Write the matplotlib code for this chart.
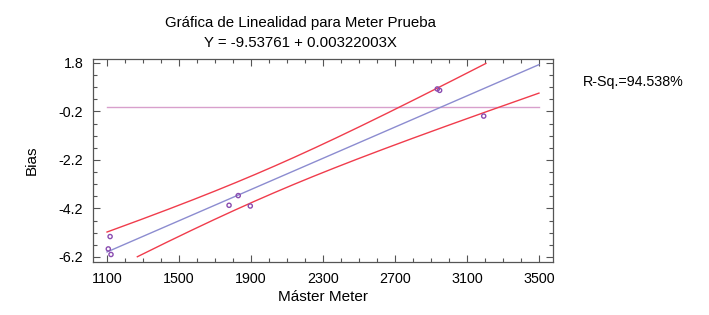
import numpy as np
import matplotlib
matplotlib.use("Agg")
import matplotlib.pyplot as plt
from matplotlib.ticker import MultipleLocator, FixedLocator

plt.rcParams["font.family"] = ["Liberation Sans", "DejaVu Sans"]

# bias vs master value
master = [1107, 1117, 1122, 1778, 1829, 1896, 2935, 2948, 3193]
bias = [-5.87, -5.36, -6.10, -4.07, -3.67, -4.10, 0.73, 0.67, -0.39]
intercept = -9.53761
slope = 0.00322003
r_sq = 94.538
t_975 = 2.365  # t(0.975, n-2=7)

x_ticks = [1100, 1500, 1900, 2300, 2700, 3100, 3500]
y_ticks = [-6.2, -4.2, -2.2, -0.2, 1.8]

xs = np.asarray(master, float)
ys = np.asarray(bias, float)
n = len(xs)
resid = ys - (intercept + slope * xs)
s = np.sqrt((resid ** 2).sum() / (n - 2))
sxx = ((xs - xs.mean()) ** 2).sum()

# 95% confidence band of the fit, clipped to the tick range like the original
xg = np.linspace(x_ticks[0], x_ticks[-1], 400)
fit = intercept + slope * xg
hw = t_975 * s * np.sqrt(1 / n + (xg - xs.mean()) ** 2 / sxx)
upper = np.ma.masked_outside(fit + hw, y_ticks[0], y_ticks[-1])
lower = np.ma.masked_outside(fit - hw, y_ticks[0], y_ticks[-1])

fig = plt.figure(figsize=(7.09, 3.15), dpi=100)
ax = fig.add_axes([93 / 709, 1 - 262 / 315, 460 / 709, 203 / 315])

ax.plot([x_ticks[0], x_ticks[-1]], [0, 0], color="#d8a0cc", lw=1)
ax.plot(xg, fit, color="#8c8cd0", lw=1)
ax.plot(xg, upper, color="#f03c4c", lw=1)
ax.plot(xg, lower, color="#f03c4c", lw=1)
ax.scatter(master, bias, s=9, facecolors="none", edgecolors="#8a4cb0", linewidths=1, zorder=3)

ax.set_xlim(1022, 3578)
ax.set_ylim(-6.41, 1.965)
ax.xaxis.set_major_locator(FixedLocator(x_ticks))
ax.xaxis.set_minor_locator(MultipleLocator(100))
ax.yaxis.set_major_locator(FixedLocator(y_ticks))
ax.yaxis.set_minor_locator(FixedLocator(np.arange(-6.2, 1.81, 0.5)))
ax.set_xticklabels([str(v) for v in x_ticks])
ax.set_yticklabels([f"{v:.1f}" for v in y_ticks])
ax.tick_params(which="both", direction="in", top=True, right=True, color="#555555",
               labelsize=10.3, width=0.8)
ax.tick_params(which="major", length=5, pad=7)
ax.tick_params(which="minor", length=3)
for sp in ax.spines.values():
    sp.set_color("#555555")
    sp.set_linewidth(0.9)

ax.set_xlabel("Máster Meter", fontsize=11, labelpad=3)
ax.set_ylabel("Bias", fontsize=11, labelpad=14)
fig.text(300 / 709, 1 - 23 / 315, "Gráfica de Linealidad para Meter Prueba",
         ha="center", va="center", fontsize=10.8)
fig.text(300 / 709, 1 - 43 / 315, f"Y = {intercept} + {slope:.8f}X",
         ha="center", va="center", fontsize=10.8)
fig.text(583 / 709, 1 - 82 / 315, f"R-Sq.={r_sq}%", ha="left", va="center", fontsize=10.3)

fig.savefig("out.png", dpi=100)
